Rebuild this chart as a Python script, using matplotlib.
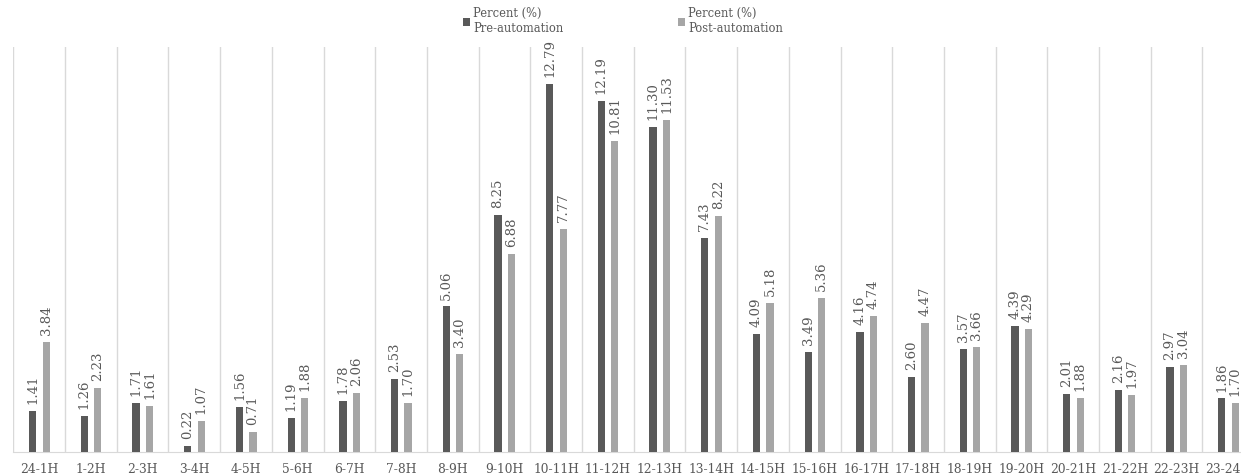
import matplotlib.pyplot as plt
import numpy as np

hours = ["24-1H", "1-2H", "2-3H", "3-4H", "4-5H", "5-6H", "6-7H", "7-8H",
         "8-9H", "9-10H", "10-11H", "11-12H", "12-13H", "13-14H", "14-15H",
         "15-16H", "16-17H", "17-18H", "18-19H", "19-20H", "20-21H",
         "21-22H", "22-23H", "23-24H"]
pre = [1.41, 1.26, 1.71, 0.22, 1.56, 1.19, 1.78, 2.53, 5.06, 8.25, 12.79, 12.19,
       11.30, 7.43, 4.09, 3.49, 4.16, 2.60, 3.57, 4.39, 2.01, 2.16, 2.97, 1.86]
post = [3.84, 2.23, 1.61, 1.07, 0.71, 1.88, 2.06, 1.70, 3.40, 6.88, 7.77, 10.81,
        11.53, 8.22, 5.18, 5.36, 4.74, 4.47, 3.66, 4.29, 1.88, 1.97, 3.04, 1.70]

plt.rcParams['font.family'] = ['DejaVu Serif']
txt_color = '#595959'

fig = plt.figure(figsize=(12.41, 4.76), dpi=100)
ax = fig.add_axes([13.3 / 1241, 24 / 476, 24 * 51.7 / 1241, 405 / 476])

x = np.arange(len(hours))
w = 0.14
b1 = ax.bar(x - 0.125, pre, w, color='#595959', label='Percent (%)\nPre-automation', zorder=3)
b2 = ax.bar(x + 0.135, post, w, color='#a6a6a6', label='Percent (%)\nPost-automation', zorder=3)

# value labels, rotated, above each bar
for bars in (b1, b2):
    for r in bars:
        h = r.get_height()
        ax.annotate(f"{h:.2f}", (r.get_x() + r.get_width() / 2, h),
                    xytext=(0, 5), textcoords='offset points',
                    rotation=90, ha='center', va='bottom',
                    fontsize=9.5, color=txt_color)

ax.set_xlim(-0.5, len(hours) - 0.5)
ax.set_ylim(0, 14.08)
ax.set_xticks(x)
ax.set_xticklabels(hours, fontsize=8.8, color=txt_color)
ax.set_xticks(np.arange(len(hours) + 1) - 0.5, minor=True)
ax.tick_params(axis='x', which='both', length=0, pad=8)
ax.grid(axis='x', which='minor', color='#d9d9d9', linewidth=1, zorder=0)
ax.set_yticks([])
for s in ('left', 'right', 'top'):
    ax.spines[s].set_visible(False)
ax.spines['bottom'].set_color('#d9d9d9')

fig.legend(loc='upper left', bbox_to_anchor=(456 / 1241, 1.0), ncol=2,
           frameon=False, fontsize=8.3, labelcolor=txt_color,
           handlelength=0.6, handleheight=0.6, handletextpad=0.3,
           columnspacing=9.9, borderaxespad=0.2)

fig.savefig('out.png', dpi=100)
